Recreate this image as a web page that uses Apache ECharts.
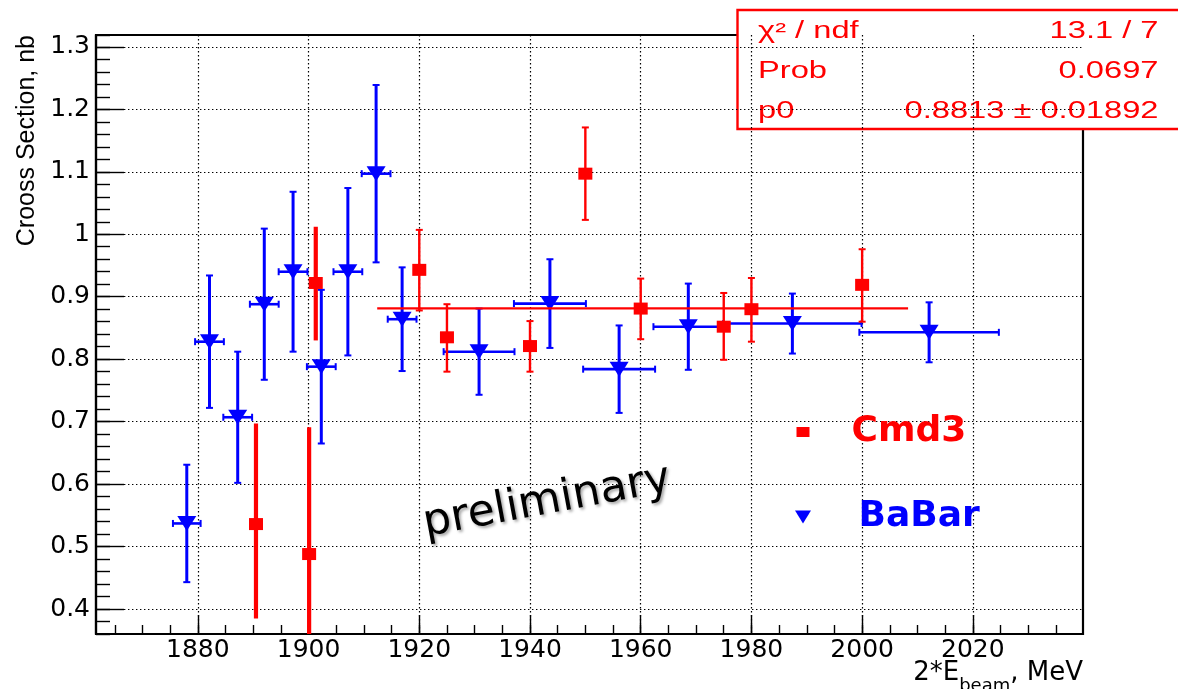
<!DOCTYPE html>
<html><head><meta charset="utf-8">
<script src="https://cdn.jsdelivr.net/npm/echarts@6/dist/echarts.min.js"></script>
<style>html,body{margin:0;padding:0;background:#fff}#c{width:1178px;height:689px}</style>
</head><body><div id="c"></div>
<script>
// ---- tick labels ----
const xTickLabels = [1880, 1900, 1920, 1940, 1960, 1980, 2000, 2020];
const yTickLabels = [0.4, 0.5, 0.6, 0.7, 0.8, 0.9, 1.0, 1.1, 1.2, 1.3];

// ---- Cmd3 (red squares) ----
const cmd3X       = [1890.5, 1900.1, 1901.3, 1920.0, 1925.0, 1940.0, 1950.0, 1960.0, 1975.0, 1980.0, 2000.0];
const cmd3Y       = [0.536, 0.488, 0.922, 0.943, 0.835, 0.821, 1.097, 0.881, 0.852, 0.880, 0.919];
const cmd3ErrUp   = [0.161, 0.203, 0.090, 0.064, 0.053, 0.040, 0.074, 0.048, 0.054, 0.050, 0.057];
const cmd3ErrDown = [0.151, 0.203, 0.092, 0.065, 0.055, 0.041, 0.074, 0.049, 0.053, 0.052, 0.059];

// ---- BaBar (blue down-triangles) ----
const babarX    = [1878.0, 1882.1, 1887.2, 1892.0, 1897.2, 1902.3, 1907.1, 1912.2, 1916.9, 1930.8, 1943.6, 1956.1, 1968.6, 1987.4, 2012.1];
const babarXErr = [2.5, 2.6, 2.6, 2.6, 2.6, 2.6, 2.6, 2.6, 2.6, 6.4, 6.5, 6.5, 6.3, 12.5, 12.6];
const babarY    = [0.537, 0.828, 0.707, 0.888, 0.940, 0.788, 0.940, 1.097, 0.864, 0.812, 0.889, 0.784, 0.852, 0.857, 0.843];
const babarYErr = [0.094, 0.106, 0.105, 0.121, 0.128, 0.123, 0.134, 0.142, 0.083, 0.069, 0.071, 0.070, 0.069, 0.048, 0.048];

// ---- constant fit ----
const fitP0 = 0.8813;
const fitRange = [1912.4, 2008.3];
const statsLabels = ['\u03C7\u00B2 / ndf', 'Prob', 'p0'];
const statsValues = ['13.1 / 7', '0.0697', '0.8813 \u00B1 0.01892'];

// ---- styling / layout (not data) ----
const X_MIN = 1861.6, X_MAX = 2039.9, Y_MIN = 0.36, Y_MAX = 1.319;
const cmd3NoCapIdx = [0, 1, 2];
const xMinorTicks = []; for (let v = 1865; v <= 2035; v += 5) xMinorTicks.push(v);
const RED = '#ff0000', BLUE = '#0000ff';

function errRender(color, width, thickWidth, capHalf, noCapIdx) {
  return function (params, api) {
    const i = params.dataIndex;
    const x = api.value(0), y = api.value(1);
    const yLo = api.value(2), yHi = api.value(3), xLo = api.value(4), xHi = api.value(5);
    const noCap = noCapIdx.indexOf(i) >= 0;
    const lw = noCap ? thickWidth : width;
    const pT = api.coord([x, yHi]), pB = api.coord([x, yLo]);
    const st = { stroke: color, lineWidth: lw };
    const cs = { stroke: color, lineWidth: 2 };
    const ch = [{ type: 'line', shape: { x1: pT[0], y1: pT[1], x2: pB[0], y2: pB[1] }, style: st }];
    if (!noCap) {
      ch.push({ type: 'line', shape: { x1: pT[0] - capHalf, y1: pT[1], x2: pT[0] + capHalf, y2: pT[1] }, style: cs });
      ch.push({ type: 'line', shape: { x1: pB[0] - capHalf, y1: pB[1], x2: pB[0] + capHalf, y2: pB[1] }, style: cs });
    }
    if (xHi > xLo) {
      const pL = api.coord([xLo, y]), pR = api.coord([xHi, y]);
      ch.push({ type: 'line', shape: { x1: pL[0], y1: pL[1], x2: pR[0], y2: pR[1] }, style: { stroke: color, lineWidth: 2.6 } });
      ch.push({ type: 'line', shape: { x1: pL[0], y1: pL[1] - capHalf, x2: pL[0], y2: pL[1] + capHalf }, style: cs });
      ch.push({ type: 'line', shape: { x1: pR[0], y1: pR[1] - capHalf, x2: pR[0], y2: pR[1] + capHalf }, style: cs });
    }
    return { type: 'group', children: ch };
  };
}

const cmd3ErrData = cmd3X.map((x, i) => [x, cmd3Y[i], cmd3Y[i] - cmd3ErrDown[i], cmd3Y[i] + cmd3ErrUp[i], x, x]);
const babarErrData = babarX.map((x, i) => [x, babarY[i], babarY[i] - babarYErr[i], babarY[i] + babarYErr[i], x - babarXErr[i], x + babarXErr[i]]);

const FONT = 'DejaVu Sans';
const dotted = { color: '#000', width: 1.2, type: [1.4, 2.6] };
const tickStyle = { color: '#000', width: 1.4 };

const chart = echarts.init(document.getElementById('c'), null, { renderer: 'canvas' });
chart.setOption({
  animation: false,
  backgroundColor: '#fff',
  textStyle: { fontFamily: FONT },
  grid: {
    left: 96, right: 95, top: 35, bottom: 55, containLabel: false, outerBoundsMode: 'none',
    show: true, borderColor: '#000', borderWidth: 2.2, backgroundColor: 'transparent'
  },
  xAxis: [
    {
      type: 'value', min: X_MIN, max: X_MAX, position: 'bottom',
      name: '2*E{sub|beam}, MeV', nameLocation: 'end', nameGap: 0, nameMoveOverlap: false,
      nameTextStyle: {
        align: 'right', verticalAlign: 'top', padding: [26, 0, 0, 0], color: '#000',
        fontFamily: FONT, fontSize: 26, lineHeight: 26,
        rich: { sub: { fontFamily: FONT, fontSize: 18, lineHeight: 18, padding: [17, 0, 0, 0], verticalAlign: 'top', color: '#000' } }
      },
      axisLine: { show: true, onZero: false, lineStyle: { color: '#000', width: 2.2 } },
      axisTick: { show: true, inside: true, length: 19, lineStyle: tickStyle, customValues: xTickLabels },
      axisLabel: { customValues: xTickLabels, formatter: v => String(v), color: '#000', fontSize: 25, fontFamily: FONT, margin: 4 },
      splitLine: { show: true, lineStyle: dotted }
    },
    {
      type: 'value', min: X_MIN, max: X_MAX, position: 'bottom', offset: 0,
      axisLine: { show: false, onZero: false },
      axisTick: { show: true, inside: true, length: 9, lineStyle: tickStyle, customValues: xMinorTicks },
      axisLabel: { show: false }, splitLine: { show: false }
    }
  ],
  yAxis: [
    {
      type: 'value', min: Y_MIN, max: Y_MAX, position: 'left',
      name: 'Crooss Section, nb', nameLocation: 'end', nameRotate: 90, nameGap: 0, nameMoveOverlap: false,
      nameTextStyle: { align: 'right', verticalAlign: 'bottom', padding: [0, 0, 56, 0], color: '#000', fontFamily: 'Liberation Sans', fontSize: 25 },
      axisLine: { show: true, onZero: false, lineStyle: { color: '#000', width: 2.2 } },
      axisTick: { show: true, inside: true, length: 28, lineStyle: tickStyle, customValues: yTickLabels },
      axisLabel: { customValues: yTickLabels, color: '#000', fontSize: 25, fontFamily: FONT, margin: 6 },
      splitLine: { show: true, lineStyle: dotted }
    },
    {
      type: 'value', min: Y_MIN, max: Y_MAX, interval: 0.02, position: 'left', offset: 0,
      axisLine: { show: false, onZero: false },
      axisTick: { show: true, inside: true, length: 14, lineStyle: tickStyle },
      axisLabel: { show: false }, splitLine: { show: false }
    }
  ],
  legend: {
    orient: 'vertical', left: 795, top: 412, padding: 0, itemGap: 45,
    itemWidth: 87, itemHeight: 13, selectedMode: false,
    textStyle: { fontFamily: FONT, fontWeight: 'bold', fontSize: 36, lineHeight: 40 },
    data: [
      { name: 'Cmd3', icon: 'path://M0,-1.5L0,-1.5M0,0H13V10H0ZM0,11.5L0,11.5', textStyle: { color: RED } },
      { name: 'BaBar', icon: 'path://M0,0H16L8,13Z', textStyle: { color: BLUE, padding: [0, 0, 0, 7] } }
    ]
  },
  series: [
    {
      name: 'BaBar errors', type: 'custom', xAxisIndex: 0, yAxisIndex: 0, clip: true, z: 2,
      renderItem: errRender(BLUE, 3, 3, 3.5, []), data: babarErrData, encode: { x: 0, y: 1 }
    },
    {
      name: 'BaBar', type: 'scatter', xAxisIndex: 0, yAxisIndex: 0, z: 3,
      symbol: 'path://M0,0H20L10,16Z', symbolSize: [19, 15], symbolKeepAspect: false,
      itemStyle: { color: BLUE, opacity: 1 },
      data: babarX.map((x, i) => [x, babarY[i]])
    },
    {
      name: 'fit', type: 'line', xAxisIndex: 0, yAxisIndex: 0, z: 4, showSymbol: false, symbol: 'none',
      lineStyle: { color: RED, width: 2.3 }, itemStyle: { color: RED },
      data: [[fitRange[0], fitP0], [fitRange[1], fitP0]]
    },
    {
      name: 'Cmd3 errors', type: 'custom', xAxisIndex: 0, yAxisIndex: 0, clip: true, z: 5,
      renderItem: errRender(RED, 2.4, 4.2, 3.5, cmd3NoCapIdx), data: cmd3ErrData, encode: { x: 0, y: 1 }
    },
    {
      name: 'Cmd3', type: 'scatter', xAxisIndex: 0, yAxisIndex: 0, z: 6,
      symbol: 'rect', symbolSize: [14, 12],
      itemStyle: { color: RED, opacity: 1 },
      data: cmd3X.map((x, i) => [x, cmd3Y[i]])
    }
  ],
  graphic: [
    {
      type: 'text', x: 547, y: 502, rotation: 10.5 * Math.PI / 180, z: 50,
      style: {
        text: 'preliminary', fontFamily: "'Comic Sans MS','DejaVu Sans'", fontSize: 44, fill: '#000',
        align: 'center', verticalAlign: 'middle',
        textShadowColor: 'rgba(0,0,0,0.35)', textShadowBlur: 3, textShadowOffsetX: 2, textShadowOffsetY: 2
      }
    },
    {
      type: 'group', z: 100,
      children: [
        { type: 'rect', shape: { x: 737.5, y: 10, width: 450, height: 119 }, style: { fill: '#fff', stroke: RED, lineWidth: 2.4 } }
      ].concat(statsLabels.map((t, i) => ({
        type: 'text', x: 758, y: 31.5 + 40 * i, scaleX: 1.42,
        style: { text: t, fontFamily: 'Liberation Sans', fontSize: 23, fill: RED, align: 'left', verticalAlign: 'middle' }
      }))).concat(statsValues.map((t, i) => ({
        type: 'text', x: 1158.5, y: 31.5 + 40 * i, scaleX: 1.42,
        style: { text: t, fontFamily: 'Liberation Sans', fontSize: 23, fill: RED, align: 'right', verticalAlign: 'middle' }
      })))
    }
  ]
});
</script>
</body></html>
